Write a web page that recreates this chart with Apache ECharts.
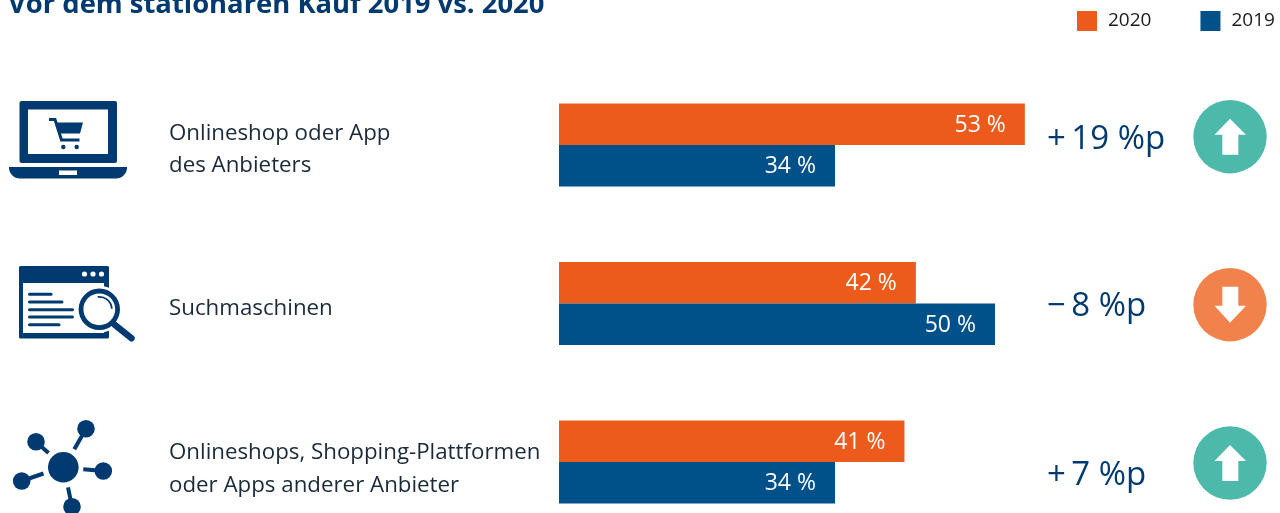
<!DOCTYPE html>
<html><head><meta charset="utf-8">
<style>html,body{margin:0;padding:0;background:#fff}#c{width:1280px;height:513px}</style>
<script src="https://cdn.jsdelivr.net/npm/echarts@6/dist/echarts.min.js"></script>
</head><body><div id="c"></div>
<script>
const titleText = 'Vor dem stationären Kauf 2019 vs. 2020';
const categories = ['Onlineshop oder App\ndes Anbieters', 'Suchmaschinen', 'Onlineshops, Shopping-Plattformen\noder Apps anderer Anbieter'];
const seriesNames = ['2020', '2019'];
// Bar lengths as drawn in the picture (the picture's bars are not strictly proportional to their printed labels)
const drawn2020 = [53, 40.6, 39.3];
const drawn2019 = [31.4, 49.6, 31.4];
// Printed labels
const printed2020 = ['53 %', '42 %', '41 %'];
const printed2019 = ['34 %', '50 %', '34 %'];
const deltas = ['+\u200919 %p', '−\u20098 %p', '+\u20097 %p'];
const directions = ['up', 'down', 'up'];

const NAVY = '#003a70', ORANGE = '#ec5b1c', BLUE = '#00508a', TEAL = '#4db9aa', SOFT = '#f2824b';
const FONT = '"Open Sans","Noto Sans",sans-serif';
const rect = (x, y, w, h, f, r) => ({type: 'rect', shape: {x, y, width: w, height: h, r: r || 0}, style: {fill: f}});
const circle = (cx, cy, r, f) => ({type: 'circle', shape: {cx, cy, r}, style: {fill: f}});
const line = (x1, y1, x2, y2, w, cap) => ({type: 'line', shape: {x1, y1, x2, y2}, style: {stroke: NAVY, lineWidth: w, lineCap: cap || 'butt'}});
const poly = (points, f) => ({type: 'polygon', shape: {points}, style: {fill: f}});

const laptop = [
  rect(19.5, 101, 97.5, 62, NAVY, 2), rect(28, 109.5, 80, 44.5, '#fff'),
  rect(9, 167, 118, 11.5, NAVY, [0, 0, 11, 11]),
  rect(59, 170.5, 18, 4.5, '#fff'),
  {type: 'polyline', shape: {points: [[49, 119.5], [55, 119.5], [61.5, 140], [79.5, 140]]}, style: {stroke: NAVY, lineWidth: 3, fill: 'none'}},
  poly([[55, 122.5], [83, 122.5], [80, 133.5], [58.5, 133.5]], NAVY),
  circle(63.3, 147, 2.2, NAVY), circle(76.7, 147, 2.2, NAVY)
];
const search = [
  rect(19, 266, 90, 72.5, NAVY, 1.5), rect(23, 283, 81, 50, '#fff'),
  circle(84.5, 274, 2.6, '#fff'), circle(93, 274, 2.6, '#fff'), circle(101.5, 274, 2.6, '#fff'),
  line(29.5, 294.3, 51, 294.3, 3, 'round'), line(29.5, 302, 62, 302, 3, 'round'), line(29.5, 309.7, 72.5, 309.7, 3, 'round'),
  line(29.5, 317, 72.5, 317, 3, 'round'), line(29.5, 324.7, 59, 324.7, 3, 'round'),
  circle(99.3, 309.3, 23.5, '#fff'),
  line(115, 325, 131.5, 338.3, 6.5, 'round'),
  {type: 'circle', shape: {cx: 99.3, cy: 309.3, r: 18.3}, style: {fill: '#fff', stroke: NAVY, lineWidth: 4.8}},
  {type: 'arc', shape: {cx: 99.3, cy: 309.3, r: 12.5, startAngle: -1.7, endAngle: -0.05}, style: {stroke: NAVY, lineWidth: 1.8, fill: 'none'}}
];
const network = [
  circle(63.3, 467.3, 15.3, NAVY),
  circle(86, 428.7, 8.8, NAVY), line(86, 428.7, 74.3, 449.3, 4),
  circle(36, 441.7, 8.8, NAVY), line(36, 441.7, 48.5, 453, 4),
  circle(103.3, 471, 8.8, NAVY), line(103.3, 471, 83.3, 469.3, 4),
  circle(21.7, 481, 8.8, NAVY), line(21.7, 481, 43.5, 473.5, 4),
  circle(72, 506.7, 8.8, NAVY), line(72, 506.7, 68, 487.3, 4)
];
const badgeCentres = [136.7, 304.7, 463];
const deltaCentres = [140, 307, 476];
const badges = directions.flatMap((d, i) => {
  const c = badgeCentres[i];
  const arrow = d === 'up'
    ? [[1230, c - 18], [1246, c - 2], [1238.3, c - 2], [1238.3, c + 18], [1222.3, c + 18], [1222.3, c - 2], [1214.5, c - 2]]
    : [[1230, c + 18], [1246, c + 1], [1238.3, c + 1], [1238.3, c - 18], [1222.3, c - 18], [1222.3, c + 1], [1214.5, c + 1]];
  return [circle(1230, c, 36.7, d === 'up' ? TEAL : SOFT), poly(arrow, '#fff')];
});
const deltaTexts = deltas.map((t, i) => ({type: 'text', x: 1047, y: deltaCentres[i], style: {text: t, fill: NAVY, font: '33px ' + FONT, textAlign: 'left', textVerticalAlign: 'middle'}}));
const titleEl = {type: 'text', x: 8, y: 5, style: {text: titleText, fill: NAVY, font: 'bold 27.4px ' + FONT, textAlign: 'left', textVerticalAlign: 'middle'}};

const barLabel = texts => ({show: true, position: 'insideRight', distance: 19, offset: [0, 1], color: '#fff', fontSize: 23, fontFamily: FONT,
  formatter: p => texts[p.dataIndex]});
const spacerHeights = [9, 10, 14];
const labelRich = {t: {color: '#1a2a3a', fontSize: 22.3, lineHeight: 32.5, fontFamily: FONT}};
spacerHeights.forEach((h, i) => { labelRich['s' + i] = {fontSize: 1, lineHeight: h}; });

const chart = echarts.init(document.getElementById('c'), null, {renderer: 'canvas'});
chart.setOption({
  animation: false,
  backgroundColor: '#fff',
  legend: {data: seriesNames, left: 1077, top: 11, padding: 0, itemWidth: 20, itemHeight: 20, itemGap: 49, icon: 'rect',
    textStyle: {color: '#1a1a1a', fontSize: 19, fontFamily: FONT, padding: [2, 0, 0, 6]}},
  grid: {left: 559, top: 145, width: 600, height: 317, containLabel: false, outerBoundsMode: 'none'},
  xAxis: {type: 'value', min: 0, max: 600 / 8.79, show: false},
  yAxis: {type: 'category', inverse: true, boundaryGap: false, data: categories,
    axisLine: {show: false}, axisTick: {show: false},
    axisLabel: {align: 'left', margin: 390, interval: 0, showMinLabel: true, showMaxLabel: true, rich: labelRich,
      formatter: (v, i) => `{s${i}| }\n` + v.split('\n').map(l => `{t|${l}}`).join('\n')}},
  series: [
    {name: seriesNames[0], type: 'bar', clip: false, data: drawn2020, barWidth: 41.5, barGap: 0, itemStyle: {color: ORANGE}, label: barLabel(printed2020)},
    {name: seriesNames[1], type: 'bar', clip: false, data: drawn2019, barWidth: 41.5, barGap: 0, itemStyle: {color: BLUE}, label: barLabel(printed2019)}
  ],
  graphic: {elements: [titleEl, ...laptop, ...search, ...network, ...badges, ...deltaTexts]}
});
</script></body></html>
